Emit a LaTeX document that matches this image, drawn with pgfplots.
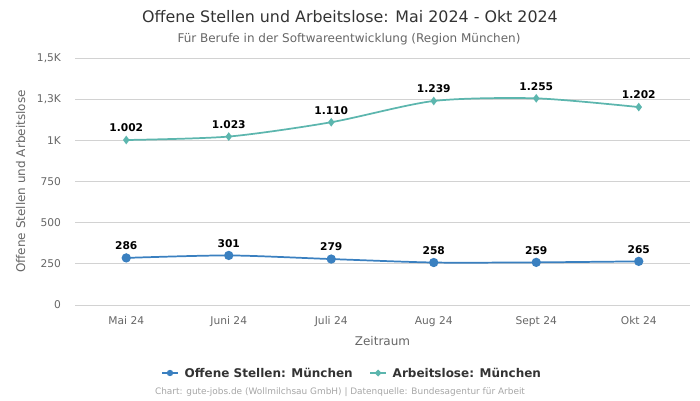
\documentclass[border=0pt]{standalone}
\usepackage{fontspec}
\setmainfont{DejaVu Sans}
\usepackage{pgfplots}
\pgfplotsset{compat=1.18}
\definecolor{cblue}{RGB}{58,128,192}
\definecolor{cteal}{RGB}{92,182,174}
\definecolor{cgrid}{RGB}{210,210,210}
\definecolor{ctext}{RGB}{51,51,51}
\definecolor{ctick}{RGB}{102,102,102}
\begin{document}
\begin{tikzpicture}
\begin{scope}[x=0.75pt,y=-0.75pt]
\path[use as bounding box] (0,0) rectangle (700,400);
\node[text=ctext,font=\fontsize{11.9}{14}\selectfont] at (350,17) {Offene Stellen und Arbeitslose: Mai 2024 - Okt 2024};
\node[text=ctick,font=\fontsize{9}{11}\selectfont] at (349,39) {Für Berufe in der Softwareentwicklung (Region München)};
\end{scope}
\begin{axis}[
  at={(56.25pt,-228.75pt)}, anchor=south west,
  scale only axis, width=461.25pt, height=185.25pt,
  xmin=-0.5, xmax=5.5, ymin=0, ymax=1500,
  xtick={0,...,5}, xticklabels={Mai 24,Juni 24,Juli 24,Aug 24,Sept 24,Okt 24},
  ytick={0,250,500,750,1000,1250,1500},
  yticklabels={0,250,500,750,1K,{1,3K},{1,5K}},
  ymajorgrids, grid style={cgrid, line width=0.6pt},
  axis x line*=bottom, axis y line*=left,
  x axis line style={draw=cgrid, line width=0.6pt, -},
  y axis line style={draw=none},
  xtick style={draw=none}, ytick style={draw=none},
  tick label style={text=ctick, font=\fontsize{8}{10}\selectfont},
  yticklabel style={xshift=-7pt},
  xticklabel style={yshift=-5pt},
  xlabel={Zeitraum}, xlabel style={text=ctick, font=\fontsize{9}{11}\selectfont, yshift=-0.5pt},
  ylabel={Offene Stellen und Arbeitslose}, ylabel style={text=ctick, font=\fontsize{9}{11}\selectfont, yshift=2pt},
  clip=false,
  nodes near coords,
  every node near coord/.append style={text=black, font=\bfseries\fontsize{8}{10}\selectfont, yshift=2pt},
  /pgf/number format/.cd, use comma, 1000 sep={.}, assume math mode=true,
]
\addplot[cteal, line width=1.3pt, smooth, tension=0.45, mark=diamond*, mark size=2.2pt, mark options={solid}] coordinates {
(0,1002) (1,1023) (2,1110) (3,1239) (4,1255) (5,1202)};
\addplot[cblue, line width=1.3pt, smooth, tension=0.45, mark=*, mark size=2.8pt] coordinates {
(0,286) (1,301) (2,279) (3,258) (4,259) (5,265)};
\end{axis}
\begin{scope}[x=0.75pt,y=-0.75pt]
\draw[cblue, line width=1.5pt] (162,373) -- (178,373);
\fill[cblue] (170,373) circle (3.2);
\node[anchor=west, text=ctext, font=\bfseries\fontsize{9}{11}\selectfont] at (180,373) {Offene Stellen: München};
\draw[cteal, line width=1.5pt] (370,373) -- (386,373);
\fill[cteal] (378,369.5) -- (381.5,373) -- (378,376.5) -- (374.5,373) -- cycle;
\node[anchor=west, text=ctext, font=\bfseries\fontsize{9}{11}\selectfont] at (388,373) {Arbeitslose: München};
\node[text=gray!70, font=\fontsize{6.7}{8}\selectfont] at (340,392) {Chart: gute-jobs.de (Wollmilchsau GmbH) | Datenquelle: Bundesagentur für Arbeit};
\end{scope}
\end{tikzpicture}
\end{document}
